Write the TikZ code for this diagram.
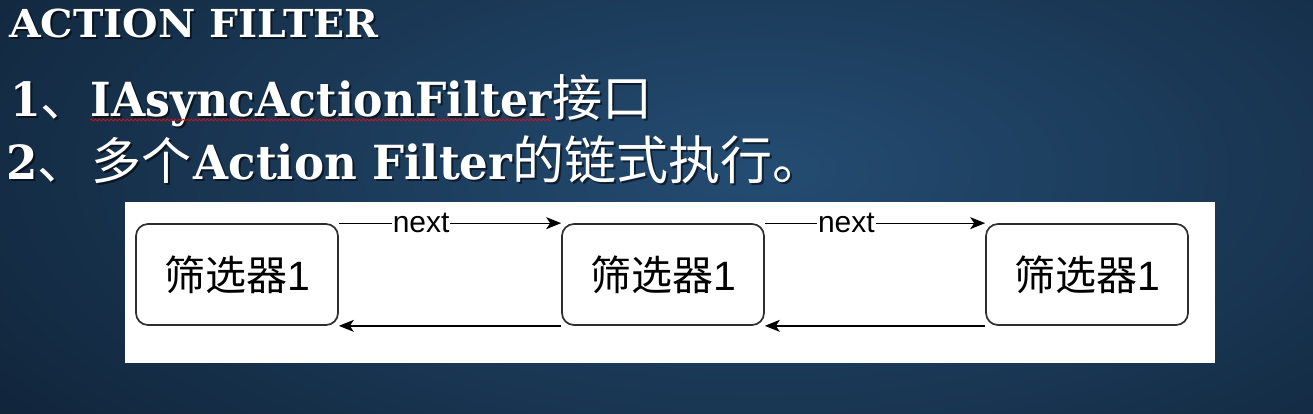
\documentclass[tikz,border=0pt]{standalone}
\usepackage{fontspec}
\usetikzlibrary{arrows.meta,decorations.pathmorphing}
\setmainfont{Liberation Sans}
\newfontfamily\slab{DejaVu Serif}[FakeStretch=0.96]
\newfontfamily\slabA{DejaVu Serif}[FakeStretch=0.94]
\newfontfamily\slabT{DejaVu Serif}[FakeStretch=1.06]
\newfontfamily\cjk{Noto Sans CJK SC}
\definecolor{bgout}{RGB}{10,24,40}
\definecolor{bgin}{RGB}{36,76,114}
\definecolor{boxline}{RGB}{45,45,45}
\newcommand\slabtxt[1]{{\slab\bfseries\fontsize{47}{50}\selectfont #1}}
\newcommand\slabAtxt[1]{{\slabA\bfseries\fontsize{47}{50}\selectfont #1}}
\newcommand\cjktxt[1]{{\cjk\fontsize{50}{52}\selectfont #1}}
\newcommand\cjkwide[1]{{\cjk\fontsize{52}{54}\selectfont #1}}
\newcommand\lineone{\slabAtxt{1}\cjktxt{、}\slabAtxt{IAsyncActionFilter}\cjktxt{接口}}
\newcommand\linetwo{\slabtxt{2}\cjktxt{、}\hspace{4pt}\cjktxt{多个}\hspace{2pt}\slabtxt{Action Filter}\cjkwide{的链式执行。}}
\newcommand\titletxt{{\slabT\bfseries\fontsize{38.5}{40}\selectfont ACTION FILTER}}
\begin{document}
\begin{tikzpicture}[x=1pt,y=-1pt,
  filterbox/.style={draw=boxline, line width=1.7pt, rounded corners=12pt,
    minimum width=202pt, minimum height=101pt, fill=white, inner sep=0pt,
    font=\fontsize{41}{44}\selectfont},
  flow/.style={line width=1.3pt, -{Stealth[length=15pt,width=12pt,inset=4pt]}},
  nextlbl/.style={fill=white, inner xsep=1pt, inner ysep=0pt,
    font=\fontsize{30}{32}\selectfont, text=black},
  slide/.style={text=white, inner sep=0pt, anchor=base west},
  dropshade/.style={text=black, opacity=0.55, inner sep=0pt, anchor=base west},
]
% background
\fill[bgout] (0,0) rectangle (1313,413);
\begin{scope}
  \clip (0,0) rectangle (1313,413);
  \shade[inner color=bgin, outer color=bgout] (760,170) ellipse [x radius=1250, y radius=560];
\end{scope}
\useasboundingbox (0,0) rectangle (1313,413);

% title
\node[dropshade] (titlesh) at (11,39) {\titletxt};
\node[slide] (title) at (9,37) {\titletxt};

% line 1
\node[dropshade] (l1sh) at (12,118) {\lineone};
\node[slide] (l1) at (10,116) {\lineone};
\draw[red, line width=0.7pt, decorate, decoration={snake, segment length=4pt, amplitude=0.9pt}] (90,120) -- (551,120);

% line 2
\node[dropshade] (l2sh) at (8,181) {\linetwo};
\node[slide] (l2) at (6,179) {\linetwo};

% diagram panel
\fill[white] (125,202) rectangle (1215,363);
\node[filterbox] (f1) at (237,274.5) {\cjk 筛选器\rmfamily 1};
\node[filterbox] (f2) at (663,274.5) {\cjk 筛选器\rmfamily 1};
\node[filterbox] (f3) at (1087,274.5) {\cjk 筛选器\rmfamily 1};

\draw[flow] (f1.north east) -- node[nextlbl, pos=0.37] (n1) {next} (f2.north west);
\draw[flow] (f2.south west) -- (f1.south east);
\draw[flow] (f2.north east) -- node[nextlbl, pos=0.37] (n2) {next} (f3.north west);
\draw[flow] (f3.south west) -- (f2.south east);
\end{tikzpicture}
\end{document}
